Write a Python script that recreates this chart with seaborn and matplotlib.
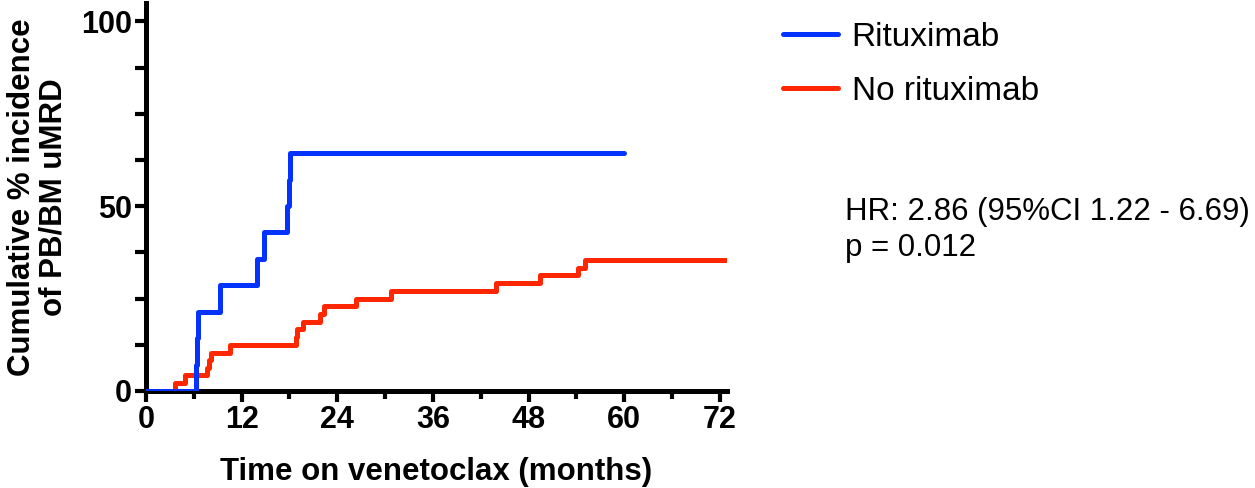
import matplotlib
matplotlib.use("Agg")
import matplotlib.pyplot as plt
import seaborn as sns
import pandas as pd
from matplotlib.ticker import MultipleLocator

# cumulative incidence (months, %)
ritux_time = [0, 6.3, 6.4, 6.5, 9.3, 13.9, 14.8, 17.7, 17.9, 18.1, 60]
ritux_pct = [0, 7.1, 14.3, 21.4, 28.6, 35.7, 42.9, 50.0, 57.1, 64.3, 64.3]

noritux_time = [0, 3.7, 4.9, 7.7, 7.9, 8.2, 10.5, 18.8, 19.0, 19.7, 21.8,
                22.3, 26.3, 30.8, 43.9, 49.4, 54.2, 55.1, 73]
noritux_pct = [0, 2.1, 4.2, 6.3, 8.3, 10.4, 12.5, 14.6, 16.7, 18.8, 20.8,
               22.9, 25.0, 27.1, 29.2, 31.3, 33.3, 35.4, 35.4]

groups = ["Rituximab", "No rituximab"]
colors = {"Rituximab": "#0433FF", "No rituximab": "#FF2600"}

df = pd.concat([
    pd.DataFrame({"time": ritux_time, "pct": ritux_pct, "group": groups[0]}),
    pd.DataFrame({"time": noritux_time, "pct": noritux_pct, "group": groups[1]}),
])

sns.set_style("ticks")
plt.rcParams["font.family"] = ["Liberation Sans", "DejaVu Sans"]
for k in ["text.color", "axes.labelcolor", "xtick.color", "ytick.color", "axes.edgecolor"]:
    plt.rcParams[k] = "black"

fig = plt.figure(figsize=(12.55, 4.88), dpi=100)
ax = fig.add_axes([146 / 1255, 97 / 488, 581 / 1255, 388 / 488])

# red first so the blue one sits on top where they overlap
for g in [groups[1], groups[0]]:
    sns.lineplot(data=df[df["group"] == g], x="time", y="pct", ax=ax,
                 estimator=None, sort=False, drawstyle="steps-post",
                 color=colors[g], linewidth=3.6, solid_capstyle="round",
                 label=g, zorder=3 if g == groups[0] else 2)

ax.set_xlim(0, 72.9)
ax.set_ylim(0, 105)
ax.xaxis.set_major_locator(MultipleLocator(12))
ax.xaxis.set_minor_locator(MultipleLocator(6))
ax.yaxis.set_major_locator(MultipleLocator(50))
ax.yaxis.set_minor_locator(MultipleLocator(12.5))
ax.tick_params(which="major", length=8, width=3, labelsize=22, pad=2)
ax.tick_params(which="minor", length=6, width=3)
ax.tick_params(axis="y", which="minor", length=8)
for lab in ax.get_xticklabels() + ax.get_yticklabels():
    lab.set_fontweight("bold")

for s in ["top", "right"]:
    ax.spines[s].set_visible(False)
for s in ["left", "bottom"]:
    ax.spines[s].set_linewidth(3.6)

ax.set_xlabel("Time on venetoclax (months)", fontsize=22.5, fontweight="bold", labelpad=16)
ax.set_ylabel("Cumulative % incidence\nof PB/BM uMRD", fontsize=22.5, fontweight="bold",
              labelpad=9, linespacing=1.05)

handles, labels = ax.get_legend_handles_labels()
order = [labels.index(g) for g in groups]
leg = ax.legend([handles[i] for i in order], [labels[i] for i in order],
                loc="upper left", bbox_to_anchor=(1.073, 0.986), frameon=False,
                fontsize=24, handlelength=1.65, handletextpad=0.42, labelspacing=0.7,
                borderaxespad=0)

fig.text(845 / 1255, 1 - 230 / 488, "HR: 2.86 (95%CI 1.22 - 6.69)\np = 0.012",
         fontsize=22.5, va="center", ha="left", linespacing=1.3)

fig.savefig("out.png", dpi=100)
